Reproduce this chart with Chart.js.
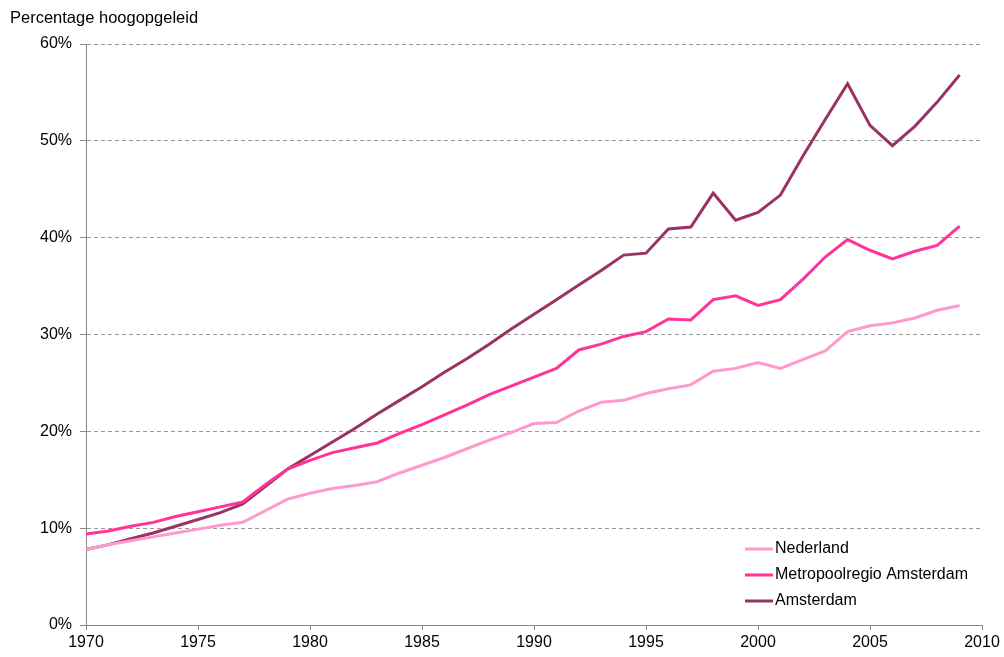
<!DOCTYPE html>
<html>
<head>
<meta charset="utf-8">
<script src="https://cdn.jsdelivr.net/npm/chart.js@4"></script>
<style>
  html, body { margin: 0; padding: 0; background: #fff; }
  #wrap { width: 1004px; height: 657px; }
</style>
</head>
<body>
<div id="wrap"><canvas id="myChart" width="1004" height="657"></canvas></div>
<script>
const years = [1970, 1971, 1972, 1973, 1974, 1975, 1976, 1977, 1978, 1979,
    1980, 1981, 1982, 1983, 1984, 1985, 1986, 1987, 1988, 1989,
    1990, 1991, 1992, 1993, 1994, 1995, 1996, 1997, 1998, 1999,
    2000, 2001, 2002, 2003, 2004, 2005, 2006, 2007, 2008, 2009]

const nederland = [7.8, 8.3, 8.7, 9.1, 9.5, 9.9, 10.3, 10.6, 11.8, 13.0,
    13.6, 14.1, 14.4, 14.8, 15.7, 16.5, 17.3, 18.2, 19.1, 19.9,
    20.8, 20.9, 22.1, 23.0, 23.2, 23.9, 24.4, 24.8, 26.2, 26.5,
    27.1, 26.5, 27.4, 28.3, 30.3, 30.9, 31.2, 31.7, 32.5, 33.0]

const metropool = [9.4, 9.7, 10.2, 10.6, 11.2, 11.7, 12.2, 12.7, 14.5, 16.1,
    17.0, 17.8, 18.3, 18.8, 19.8, 20.7, 21.7, 22.7, 23.8, 24.7,
    25.6, 26.5, 28.4, 29.0, 29.8, 30.3, 31.6, 31.5, 33.6, 34.0,
    33.0, 33.6, 35.7, 38.0, 39.8, 38.7, 37.8, 38.6, 39.2, 41.2]

const amsterdam = [7.8, 8.3, 8.9, 9.5, 10.2, 10.9, 11.6, 12.5, 14.3, 16.1,
    17.5, 18.9, 20.3, 21.8, 23.2, 24.6, 26.1, 27.5, 29.0, 30.6,
    32.1, 33.6, 35.1, 36.6, 38.2, 38.4, 40.9, 41.1, 44.6, 41.8,
    42.6, 44.4, 48.4, 52.2, 55.9, 51.6, 49.5, 51.5, 54.0, 56.8]

const seriesNames = ['Nederland', 'Metropoolregio Amsterdam', 'Amsterdam']
const seriesColors = ['#ff99cc', '#ff3399', '#993366']

const FONT = 'Liberation Sans, Arial, sans-serif'

function toPoints(values) {
    return values.map((v, i) => ({ x: years[i], y: v }))
}

const data = {
    datasets: [nederland, metropool, amsterdam].map((vals, i) => ({
        label: seriesNames[i],
        data: toPoints(vals),
        borderColor: seriesColors[i],
        backgroundColor: seriesColors[i],
        borderWidth: 3,
        pointRadius: 0,
        tension: 0
    }))
}

// title top-left + legend in the lower right of the plot
const extras = {
    id: 'extras',
    afterDraw(chart) {
        const ctx = chart.ctx
        ctx.save()
        ctx.fillStyle = '#000'
        ctx.font = '16.5px ' + FONT
        ctx.textBaseline = 'middle'
        ctx.textAlign = 'left'
        ctx.fillText('Percentage hoogopgeleid', 10, 18)

        ctx.font = '16px ' + FONT
        const x0 = 745, y0 = 549, gap = 26
        chart.data.datasets.forEach((ds, i) => {
            const y = y0 + i * gap
            ctx.strokeStyle = ds.borderColor
            ctx.lineWidth = 3
            ctx.beginPath()
            ctx.moveTo(x0, y)
            ctx.lineTo(x0 + 28, y)
            ctx.stroke()
            ctx.fillStyle = '#000'
            ctx.fillText(ds.label, x0 + 30, y)
        })
        ctx.restore()
    }
}

const config = {
    type: 'line',
    data,
    options: {
        responsive: false,
        animation: false,
        layout: { padding: { top: 44, right: 22, left: 0, bottom: 0 } },
        plugins: {
            legend: { display: false },
            tooltip: { enabled: false }
        },
        scales: {
            x: {
                type: 'linear',
                min: 1970,
                max: 2010,
                afterFit(scale) { scale.height = 32 },
                ticks: {
                    stepSize: 5,
                    color: '#000',
                    font: { family: FONT, size: 16 },
                    padding: 3,
                    maxRotation: 0,
                    callback: v => String(v)
                },
                grid: {
                    drawOnChartArea: false,
                    drawTicks: true,
                    tickLength: 5,
                    tickColor: '#888',
                    tickWidth: 1
                },
                border: { color: '#888', width: 1 }
            },
            y: {
                min: 0,
                max: 60,
                afterFit(scale) { scale.width = 86 },
                ticks: {
                    stepSize: 10,
                    color: '#000',
                    font: { family: FONT, size: 16 },
                    padding: 8,
                    callback: v => v + '%'
                },
                grid: {
                    color: '#999',
                    lineWidth: 1,
                    drawTicks: true,
                    tickLength: 6,
                    tickColor: '#888',
                    tickBorderDash: []
                },
                border: { color: '#888', width: 1, dash: [4, 3] }
            }
        }
    },
    plugins: [extras]
}

const myChart = new Chart(document.getElementById('myChart'), config)
</script>
</body>
</html>
